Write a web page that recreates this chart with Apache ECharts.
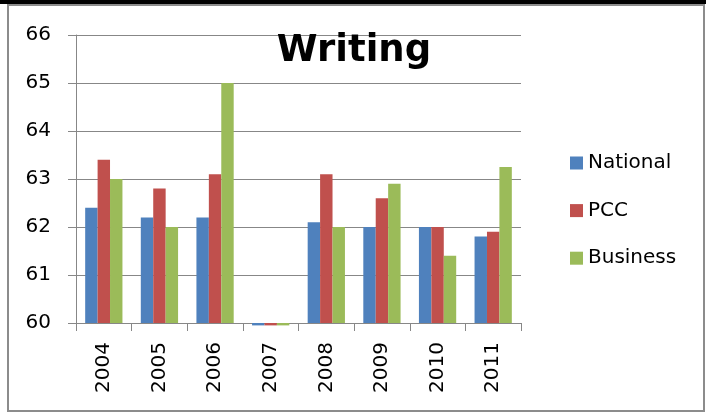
<!DOCTYPE html>
<html>
<head>
<meta charset="utf-8">
<script src="https://cdn.jsdelivr.net/npm/echarts@6/dist/echarts.min.js"></script>
<style>
  html, body { margin: 0; padding: 0; background: #fff; }
  #chart { width: 708px; height: 418px; }
</style>
</head>
<body>
<div id="chart"></div>
<script>
// Writing scores by year
const years = ['2004', '2005', '2006', '2007', '2008', '2009', '2010', '2011'];
const national = [62.4, 62.2, 62.2, 59.95, 62.1, 62.0, 62.0, 61.8];
const pcc = [63.4, 62.8, 63.1, 59.95, 63.1, 62.6, 62.0, 61.9];
const business = [63.0, 62.0, 65.0, 59.95, 62.0, 62.9, 61.4, 63.25];
const yTicks = { min: 60, max: 66, step: 1 };

const FONT = 'DejaVu Sans';
const GRAY = '#878787';
const GROUP_SHARE = 0.67; // share of each category band filled by the bar group

// Clustered bars drawn from the axis floor, so values just under the floor
// still show as a sliver below the axis line.
function barSeries(name, data, color, index, count) {
  return {
    name: name,
    type: 'custom',
    data: data.map(function (v, i) { return [i, v]; }),
    itemStyle: { color: color },
    encode: { x: 0, y: 1 },
    clip: false,
    renderItem: function (params, api) {
      const cat = api.value(0);
      const val = api.value(1);
      const band = api.size([1, 0])[0];
      const w = band * GROUP_SHARE / count;
      const top = api.coord([cat, val]);
      const base = api.coord([cat, yTicks.min]);
      const x0 = top[0] - band * GROUP_SHARE / 2 + index * w;
      const y0 = Math.min(top[1], base[1]);
      const h = Math.abs(base[1] - top[1]);
      return {
        type: 'rect',
        shape: { x: x0, y: y0, width: w, height: h },
        style: { fill: color }
      };
    }
  };
}

const chart = echarts.init(document.getElementById('chart'), null, { renderer: 'canvas' });
chart.setOption({
  animation: false,
  backgroundColor: '#fff',
  title: {
    text: 'Writing',
    left: 'center',
    top: 28,
    textStyle: { fontFamily: FONT, fontWeight: 'bold', fontSize: 37, color: '#000' }
  },
  legend: {
    orient: 'vertical',
    left: 565,
    top: 148,
    itemWidth: 13,
    itemHeight: 13,
    itemGap: 27.6,
    icon: 'rect',
    textStyle: { fontFamily: FONT, fontSize: 20, color: '#000', lineHeight: 20 },
    data: ['National', 'PCC', 'Business']
  },
  grid: { left: 76, right: 187, top: 35, bottom: 95 },
  xAxis: {
    type: 'category',
    data: years,
    axisLine: { lineStyle: { color: GRAY, width: 1 } },
    axisTick: { show: true, length: 8, lineStyle: { color: GRAY } },
    axisLabel: { rotate: 90, margin: 19, fontFamily: FONT, fontSize: 20, color: '#000' }
  },
  yAxis: {
    type: 'value',
    min: yTicks.min,
    max: yTicks.max,
    interval: yTicks.step,
    axisLine: { show: true, lineStyle: { color: GRAY, width: 1 } },
    axisTick: { show: true, length: 8, lineStyle: { color: GRAY } },
    axisLabel: { margin: 25, fontFamily: FONT, fontSize: 20, color: '#000' },
    splitLine: { lineStyle: { color: GRAY, width: 1 } }
  },
  graphic: [
    {
      type: 'rect',
      shape: { x: 8, y: 5, width: 696, height: 406 },
      style: { fill: 'none', stroke: '#8c8c8c', lineWidth: 2 },
      silent: true
    },
    {
      type: 'rect',
      shape: { x: 0, y: 0, width: 706, height: 4 },
      style: { fill: '#000' },
      silent: true
    }
  ],
  series: [
    barSeries('National', national, '#4F81BD', 0, 3),
    barSeries('PCC', pcc, '#C0504D', 1, 3),
    barSeries('Business', business, '#9BBB59', 2, 3)
  ]
});
</script>
</body>
</html>
